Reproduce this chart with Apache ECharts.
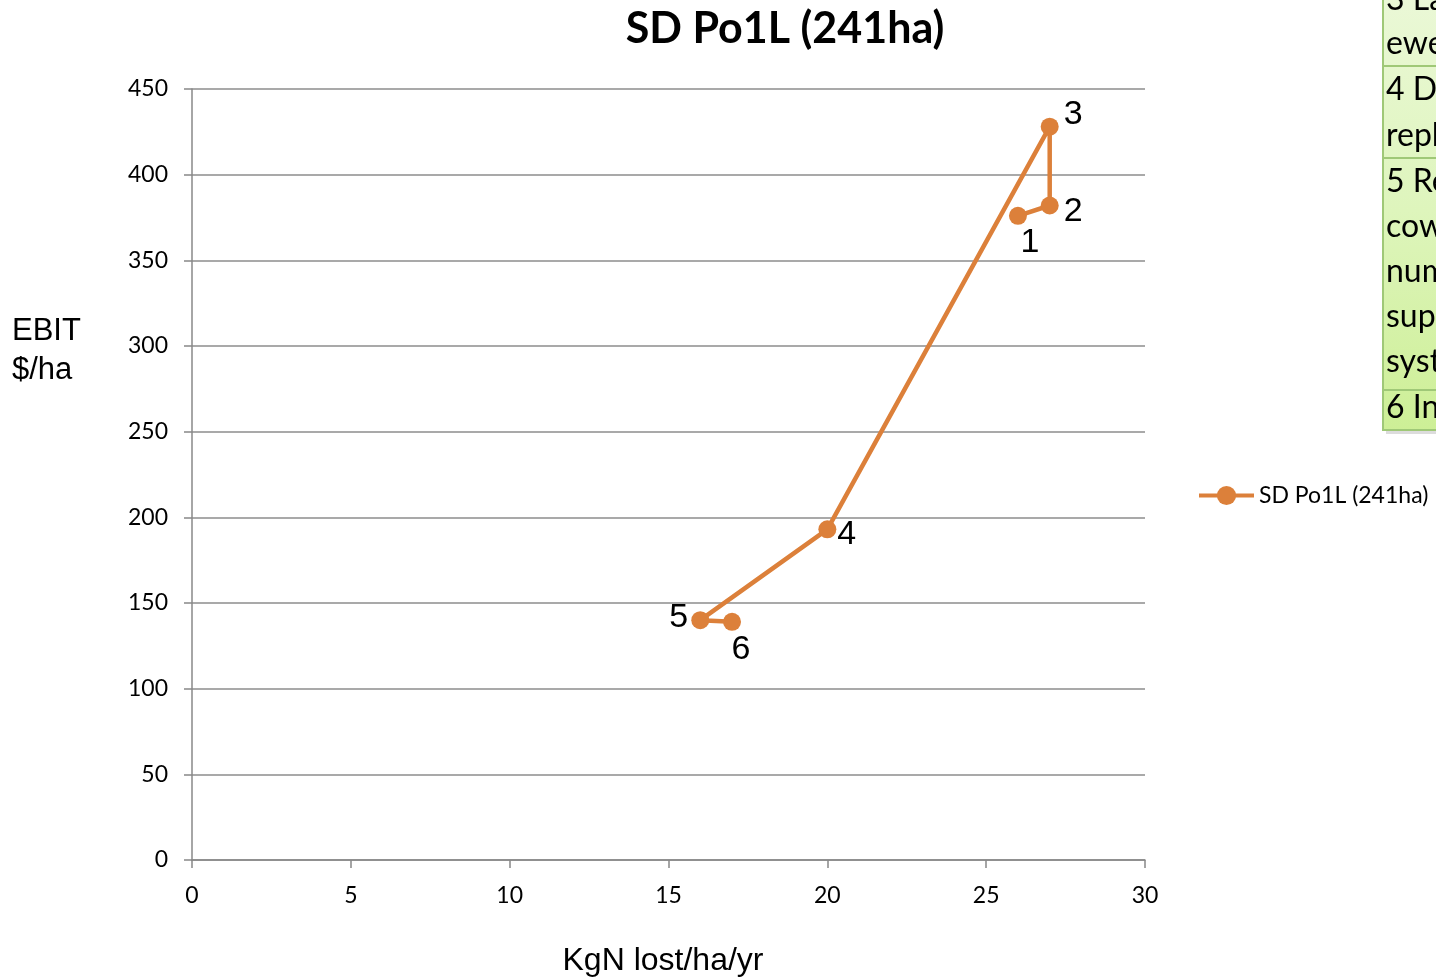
<!DOCTYPE html>
<html><head><meta charset="utf-8">
<script src="https://cdn.jsdelivr.net/npm/echarts@6/dist/echarts.min.js"></script>
<style>html,body{margin:0;padding:0;background:#fff}#c{width:1436px;height:979px}</style>
</head><body><div id="c"></div>
<script>
const seriesName = 'SD Po1L (241ha)';
const pointLabels = ['1','2','3','4','5','6'];
const xValues = [26, 27, 27, 20, 16, 17];
const yValues = [376, 382, 428, 193, 140, 139];
const tableLines = ['3 Lambing','ewes','4 Dairy','replacements','5 Reduced','cows','numbers','supplement','system','6 Increased'];

const labelCfg = [
  {position:'bottom', offset:[12,-4]},
  {position:'right', offset:[0,6]},
  {position:'right', offset:[0,-12]},
  {position:'right', offset:[-4,5]},
  {position:'left', offset:[2,-3]},
  {position:'bottom', offset:[9,-3]}
];

const data = xValues.map((x,i)=>({
  value:[x, yValues[i]],
  label:Object.assign({show:true, formatter:pointLabels[i], fontFamily:'Liberation Sans, Arial', fontSize:34, color:'#000'}, labelCfg[i])
}));

const chart = echarts.init(document.getElementById('c'));
const tblY = [-16, 28, 74, 120, 166, 211, 256, 301, 346, 392];
const seps = [66, 158, 390];
const graphic = [
  {type:'rect', shape:{x:1386, y:-10, width:60, height:444}, style:{fill:'#c4c4c4', opacity:0.6}, z:0},
  {type:'rect', shape:{x:1383, y:-10, width:60, height:440},
   style:{fill:new echarts.graphic.LinearGradient(0,0,0,1,[{offset:0,color:'#ebf8d8'},{offset:0.5,color:'#def5bc'},{offset:1,color:'#cdef96'}]), stroke:'#9fc877', lineWidth:2}, z:1}
];
seps.forEach(y=>graphic.push({type:'line', shape:{x1:1383,y1:y,x2:1436,y2:y}, style:{stroke:'#9fc877', lineWidth:2}, z:2}));
tableLines.forEach((t,i)=>graphic.push({type:'text', x:1386, y:tblY[i], style:{text:t, font:'32px Lato, "Open Sans", sans-serif', fill:'#000'}, z:3}));
graphic.push({type:'text', x:12, y:312, style:{text:'EBIT\n$/ha', font:'31px "Liberation Sans", Arial', lineHeight:39, fill:'#000'}});
graphic.push({type:'text', x:663, y:961, style:{text:'KgN lost/ha/yr', font:'32px "Liberation Sans", Arial', fill:'#000', align:'center', verticalAlign:'middle'}});

chart.setOption({
  animation:false,
  title:{text:seriesName, left:780, top:3, textAlign:'center',
    textStyle:{fontFamily:'Lato, "Open Sans", sans-serif', fontWeight:'bold', fontSize:43, color:'#000'}},
  legend:{left:1192, top:479, itemWidth:55, itemHeight:24, itemGap:0,
    lineStyle:{width:4, color:'#dc803a'},
    itemStyle:{color:'#dc803a'},
    textStyle:{fontFamily:'Lato, "Open Sans", sans-serif', fontSize:23, color:'#000', padding:[0,0,0,0]},
    data:[{name:seriesName}]},
  grid:{left:192, right:291, top:89, bottom:119, containLabel:false},
  xAxis:{type:'value', min:0, max:30, interval:5,
    axisLine:{show:true, lineStyle:{color:'#888', width:1.5}},
    axisTick:{show:true, length:8, lineStyle:{color:'#888', width:1.5}},
    axisLabel:{fontFamily:'Lato, "Open Sans", sans-serif', fontSize:23, color:'#000', margin:24},
    splitLine:{show:false}},
  yAxis:{type:'value', min:0, max:450, interval:50,
    axisLine:{show:true, lineStyle:{color:'#888', width:1.5}},
    axisTick:{show:true, length:8, lineStyle:{color:'#888', width:1.5}},
    axisLabel:{fontFamily:'Lato, "Open Sans", sans-serif', fontSize:23, color:'#000', margin:24},
    splitLine:{show:true, lineStyle:{color:'#8c8c8c', width:1.5}}},
  graphic:graphic,
  series:[{name:seriesName, type:'line', data:data, symbol:'circle', symbolSize:18,
    lineStyle:{color:'#dc803a', width:4.5}, itemStyle:{color:'#dc803a'}, z:5}]
});
</script></body></html>
